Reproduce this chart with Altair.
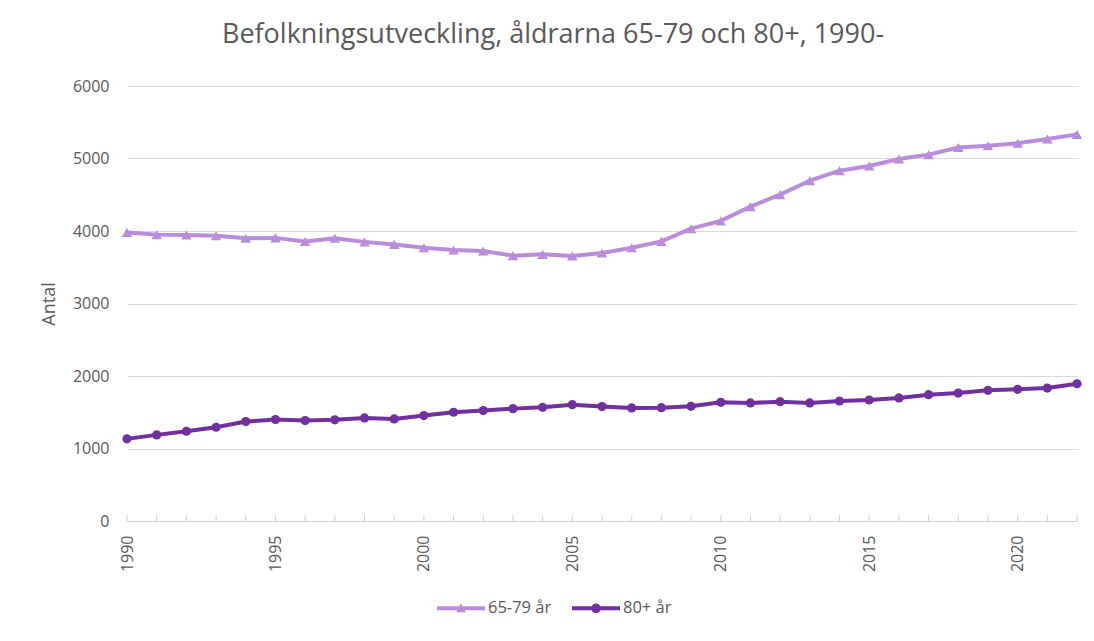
import altair as alt
import pandas as pd

years = [1990, 1991, 1992, 1993, 1994, 1995, 1996, 1997, 1998, 1999, 2000,
         2001, 2002, 2003, 2004, 2005, 2006, 2007, 2008, 2009, 2010,
         2011, 2012, 2013, 2014, 2015, 2016, 2017, 2018, 2019, 2020, 2021, 2022]
series_names = ["65-79 år", "80+ år"]
values_65_79 = [3980, 3950, 3945, 3935, 3900, 3905, 3855, 3900, 3850, 3815, 3770,
                3738, 3724, 3660, 3678, 3655, 3697, 3770, 3857, 4032, 4140,
                4336, 4502, 4695, 4832, 4897, 4993, 5053, 5152, 5177, 5210, 5269, 5333]
values_80 = [1133, 1188, 1238, 1293, 1371, 1399, 1385, 1395, 1422, 1408, 1454,
             1500, 1523, 1550, 1568, 1605, 1578, 1559, 1563, 1582, 1637,
             1628, 1646, 1628, 1655, 1669, 1697, 1742, 1765, 1802, 1816, 1834, 1893]
colors = ["#b98cdc", "#7030a0"]
y_ticks = [0, 1000, 2000, 3000, 4000, 5000, 6000]
title_text = "Befolkningsutveckling, åldrarna 65-79 och 80+, 1990-"
y_title = "Antal"

rows = []
for yr, a, b in zip(years, values_65_79, values_80):
    rows.append({"year": yr, "series": series_names[0], "value": a})
    rows.append({"year": yr, "series": series_names[1], "value": b})
df = pd.DataFrame(rows)
ticks_df = pd.DataFrame({"year": years})

FONT = "Open Sans"
GREY = "#595959"
AXIS_GREY = "#d0d0d0"

# legend symbols: line segment + marker (filled shapes, unit box scaled by sqrt(size)/2)
tri_path = "M-1,-0.08H1V0.08H-1Z M-0.2,0.17L0,-0.21L0.2,0.17Z"
circ_path = "M-1,-0.08H1V0.08H-1Z M-0.2,0A0.2,0.2 0 1,1 0.2,0A0.2,0.2 0 1,1 -0.2,0Z"

legend = alt.Legend(
    title=None, orient="none", legendX=310, legendY=498, direction="horizontal",
    symbolSize=2304, symbolStrokeWidth=0, symbolOpacity=1, symbolType=tri_path,
    labelFont=FONT, labelFontSize=16.5, labelColor=GREY, labelOffset=3,
    columnPadding=20, padding=0,
)

color_enc = alt.Color("series:N", scale=alt.Scale(domain=series_names, range=colors), legend=legend)

x_scale = alt.Scale(domain=[years[0], years[-1]], nice=False, zero=False)
x = alt.X("year:Q", title=None, scale=x_scale,
          axis=alt.Axis(values=years, format="d",
                        labelExpr="datum.value % 5 == 0 ? datum.label : ''",
                        labelAngle=270, labelFont=FONT, labelFontSize=16, labelColor=GREY,
                        labelPadding=14, ticks=False,
                        domainColor=AXIS_GREY, grid=False, labelOverlap=False))
y_scale = alt.Scale(domain=[0, 6000], nice=False)
y = alt.Y("value:Q", title=y_title, scale=y_scale,
          axis=alt.Axis(values=y_ticks, format="d", labelFont=FONT, labelFontSize=16,
                        labelColor=GREY, labelPadding=18, ticks=False, domain=False, grid=True,
                        gridColor="#d9d9d9", titleFont=FONT, titleFontSize=18,
                        titleColor=GREY, titleFontWeight="normal", titlePadding=14))

base = alt.Chart(df)
legend_layer = base.transform_filter("false").mark_point(filled=True, opacity=1).encode(
    color=color_enc,
    shape=alt.Shape("series:N", scale=alt.Scale(domain=series_names, range=[tri_path, circ_path]),
                    legend=legend),
)
lines = base.mark_line(strokeWidth=4).encode(x=x, y=y, color=color_enc, detail="series:N")
tick_marks = alt.Chart(ticks_df).mark_rule(color=AXIS_GREY, strokeWidth=1).encode(
    x=x, y=alt.Y("y0:Q", scale=y_scale), y2="y1:Q").transform_calculate(y0="0", y1="80")
tri_pts = base.transform_filter(alt.datum.series == series_names[0]).mark_point(
    filled=True, opacity=1, shape="triangle-up", size=110).encode(x=x, y=y, color=color_enc)
circ_pts = base.transform_filter(alt.datum.series == series_names[1]).mark_point(
    filled=True, opacity=1, shape="circle", size=85).encode(x=x, y=y, color=color_enc)

chart = alt.layer(legend_layer, lines, tick_marks, tri_pts, circ_pts).properties(
    width=950, height=435,
    autosize=alt.AutoSizeParams(type="none"),
    padding={"left": 119, "top": 78, "right": 5, "bottom": 105},
    title=alt.TitleParams(text=title_text, font=FONT, fontSize=27, fontWeight="normal",
                          color=GREY, anchor="middle", frame="group", dx=-49,
                          baseline="alphabetic", offset=8),
).configure_view(stroke=None).configure_axisX(labelOverlap=False)

chart.save("out.html", embed_options={"renderer": "svg", "actions": False})
